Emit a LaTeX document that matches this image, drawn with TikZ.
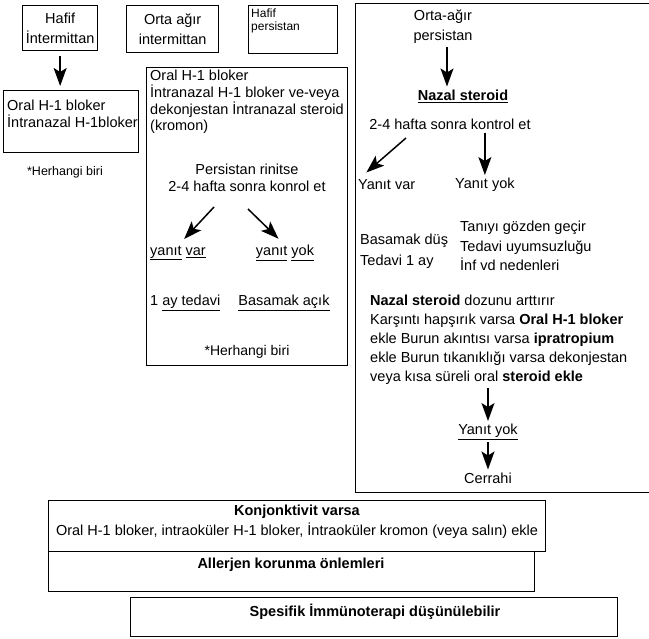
\documentclass[tikz,border=0pt]{standalone}
\usepackage{fontspec}
\setmainfont{Liberation Sans}
\usepackage{tikz}
\usetikzlibrary{arrows.meta,positioning,calc}
\newcommand{\fmain}{\fontsize{14.5}{16.6}\selectfont}
\newcommand{\fnote}{\fontsize{12.5}{14}\selectfont}

\begin{document}
\begin{tikzpicture}[
			x=1pt,y=-1pt,
			every node/.style={font=\fmain,inner sep=0pt},
			frame/.style={draw,line width=1.3pt,anchor=north west,inner sep=0pt},
			box/.style={frame,align=center,font=\fontsize{14.5}{20}\selectfont},
			txt/.style={align=left,anchor=west},
			arr/.style={-{Stealth[length=18pt,width=13pt,inset=4pt]},line width=1.5pt}
			]
			\useasboundingbox (0,0) rectangle (649,639);
			% upper row of severity boxes
			\node[box,minimum width=75,minimum height=45] (hafif) at (22,5) {Hafif\\İntermittan};
			\node[box,minimum width=92,minimum height=47] (ortaint) at (126,5) {Orta ağır\\intermittan};
			\node[frame,minimum width=89,minimum height=48] (hpbox) at (248,5) {};
			\node[txt,font=\fontsize{12}{13.5}\selectfont] (hptx) at (251,21) {Hafif\\persistan};
			% left column
			\node[frame,minimum width=135,minimum height=62] (lbox) at (3,90) {};
			\node[txt,font=\fontsize{14.5}{17}\selectfont] (lboxtx) at (7,114) {Oral H-1 bloker\\İntranazal H-1bloker};
			\node[font=\fnote] (lnote) at (65,172) {*Herhangi biri};
			\draw[arr,shorten <=5pt,shorten >=4pt] (hafif.south) -- (hafif.south |- lbox.north);
			% middle column
			\node[frame,minimum width=201,minimum height=298] (midbox) at (146,67) {};
			\node[txt] (midtx) at (150,102) {Oral H-1 bloker\\İntranazal H-1 bloker ve-veya\\dekonjestan İntranazal steroid\\(kromon)};
			\node[align=center,font=\fontsize{14.5}{17}\selectfont] (pers) at (247,178) {Persistan rinitse\\2-4 hafta sonra konrol et};
			\node[txt] (yvar) at (150,253) {\underline{yanıt} \underline{var}};
			\node (yyok) at (285,253) {\underline{yanıt} \underline{yok}};
			\node[txt] (aytedavi) at (150,303) {1 \underline{ay tedavi}};
			\node (basacik) at (284,303) {\underline{Basamak açık}};
			\node[font=\fontsize{14}{16}\selectfont] (mnote) at (247,352) {*Herhangi biri};
			\coordinate (pl) at (214,207);
			\coordinate (pr) at (248,209);
			\draw[arr,shorten >=9pt] (pl) -- (yvar.north);
			\draw[arr,shorten >=9pt] (pr) -- (yyok.north);
			% right column
			\node[frame,minimum width=296,minimum height=489] (rbox) at (355,3) {};
			\node[align=center,font=\fontsize{14.5}{20}\selectfont] (oap) at (443,27) {Orta-ağır\\persistan};
			\node (nazal) at (463,96) {\textbf{\underline{Nazal steroid}}};
			\node (kontrol) at (450,124) {2-4 hafta sonra kontrol et};
			\node[txt] (ryvar) at (358,185) {Yanıt var};
			\node[txt] (ryyok) at (455,185) {Yanıt yok};
			\node[txt,font=\fontsize{14.5}{21}\selectfont] (basdus) at (360,251) {Basamak düş\\Tedavi 1 ay};
			\node[txt,font=\fontsize{14.5}{19.5}\selectfont] (tani) at (460,246) {Tanıyı gözden geçir\\Tedavi uyumsuzluğu\\İnf vd nedenleri};
			\node[txt,font=\fontsize{14.5}{19}\selectfont] (para) at (370,340) {\textbf{Nazal steroid} dozunu arttırır\\Karşıntı hapşırık varsa \textbf{Oral H-1 bloker}\\ekle Burun akıntısı varsa \textbf{ipratropium}\\ekle Burun tıkanıklığı varsa dekonjestan\\veya kısa süreli oral \textbf{steroid ekle}};
			\node (yyok2) at (488,432) {\underline{Yanıt yok}};
			\node (cerrahi) at (488,478) {Cerrahi};
			\coordinate (rl) at (406,138);
			\draw[arr,shorten <=3pt,shorten >=3pt] (oap.south -| 447,0) -- (nazal.north -| 447,0);
			\draw[arr,shorten >=11pt] (rl) -- (ryvar.north west);
			\draw[arr,shorten <=3pt,shorten >=3pt] (ryyok.north |- kontrol.south) -- (ryyok.north);
			\draw[arr,shorten <=3pt,shorten >=3pt] (para.south -| yyok2.north) -- (yyok2.north);
			\draw[arr,shorten <=2pt,shorten >=3pt] (yyok2.south) -- (cerrahi.north);
			% lower boxes
			\node[frame,minimum width=497,minimum height=51] (konj) at (48,500) {};
			\node[align=center,font=\fontsize{14.5}{20}\selectfont] (konjtx) at (297,522) {\textbf{Konjonktivit varsa}\\Oral H-1 bloker, intraoküler H-1 bloker, İntraoküler kromon (veya salın) ekle};
			\node[frame,minimum width=486,minimum height=40] (allerjen) at (48,551) {};
			\node[font=\fmain\bfseries] (allerjentx) at (291,565) {Allerjen korunma önlemleri};
			\node[frame,minimum width=487,minimum height=39] (spes) at (130,597) {};
			\node[font=\fmain\bfseries] (spestx) at (375,612) {Spesifik İmmünoterapi düşünülebilir};
		\end{tikzpicture}
\end{document}
